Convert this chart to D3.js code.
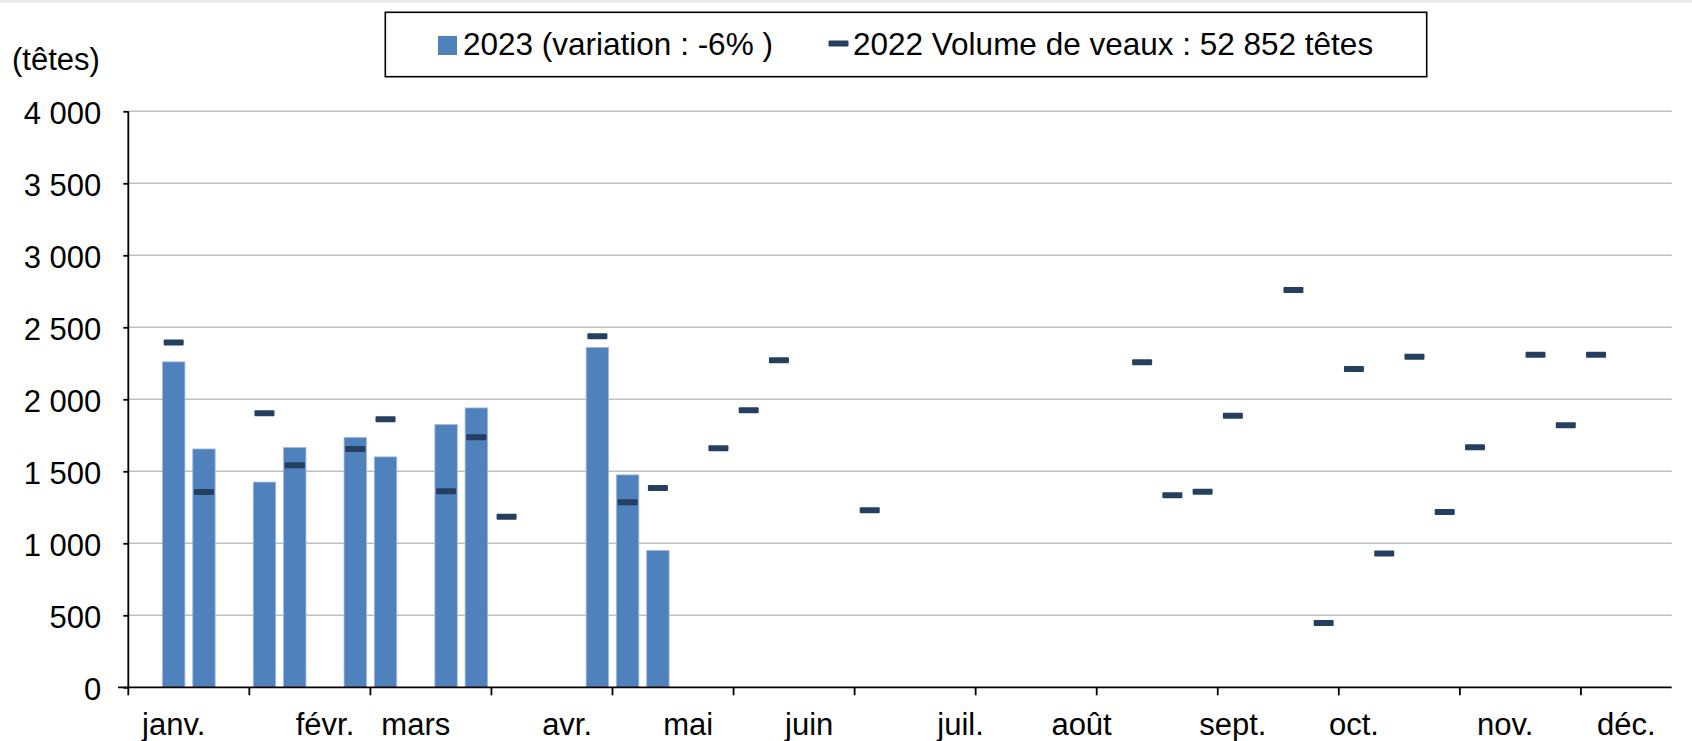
<!DOCTYPE html>
<html><head><meta charset="utf-8">
<script src="https://cdn.jsdelivr.net/npm/d3@7"></script>
<style>
html,body{margin:0;padding:0;background:#fff;}
svg{display:block;font-family:"Liberation Sans",Arial,sans-serif;}
</style></head>
<body>
<svg id="chart" width="1692" height="741"></svg>
<script>
// Weekly categories (51 slots)
const weeks = [1,2,3,4,5,6,7,8,9,10,11,12,13,14,15,16,17,18,19,20,21,22,23,24,25,26,27,28,29,30,31,32,33,34,35,36,37,38,39,40,41,42,43,44,45,46,47,48,49,50,51];
// Month labels shown under specific weeks
const monthLabels = ["","janv.","","","","","févr.","","","mars","","","","","avr.","","","","mai","","","","juin","","","","","juil.","","","","août","","","","","sept.","","","","oct.","","","","","nov.","","","","déc.",""];
// 2023 weekly volumes (bars)
const values2023 = [null,2260,1655,null,1425,1665,null,1735,1600,null,1825,1940,null,null,null,2360,1475,950,null,null,null,null,null,null,null,null,null,null,null,null,null,null,null,null,null,null,null,null,null,null,null,null,null,null,null,null,null,null,null,null,null];
// 2022 weekly volumes (dash markers)
const values2022 = [null,2395,1356,null,1903,1542,null,1655,1861,null,1361,1736,1185,null,null,2437,1285,1384,null,1660,1924,2271,null,null,1229,null,null,null,null,null,null,null,null,2257,1333,1358,1886,null,2759,446,2210,930,2296,1217,1667,null,2310,1819,2310,null,null];
const yTicks = [0,500,1000,1500,2000,2500,3000,3500,4000];
const legendLabels = ["2023 (variation : -6% )","2022 Volume de veaux : 52 852 têtes"];
const unitLabel = "(têtes)";

const barColor = "#4f81bd", dashColor = "#243f60";
const svg = d3.select("#chart");
const L = 128.3, R = 1671.7, T = 111.3, B = 687.3;

const x = d3.scaleBand().domain(weeks).range([L, R]).paddingInner(0.26).paddingOuter(0.13);
const y = d3.scaleLinear().domain([0, 4000]).range([B, T]);
const fr = d3.formatLocale({decimal: ",", thousands: " ", grouping: [3], currency: ["", "€"]}).format(",");

// top shade
svg.append("rect").attr("x",0).attr("y",0).attr("width",1692).attr("height",3).attr("fill","#ececec");

// gridlines
svg.append("g").selectAll("line").data(yTicks.filter(d => d > 0)).join("line")
  .attr("x1", L).attr("x2", R).attr("y1", d => y(d)).attr("y2", d => y(d))
  .attr("stroke", "#c0c0c0").attr("stroke-width", 1.6);

// y axis
const yAxis = svg.append("g").attr("transform", `translate(${L},0)`)
  .call(d3.axisLeft(y).tickValues(yTicks).tickFormat(fr).tickSize(5).tickPadding(22));
yAxis.select(".domain").attr("stroke", "#000").attr("stroke-width", 1.8).attr("d", `M0,${T}V${B}`);
yAxis.selectAll(".tick line").attr("stroke", "#000").attr("stroke-width", 1.8);
yAxis.selectAll(".tick text").attr("font-size", 31).attr("fill", "#000").attr("font-family", "Liberation Sans, Arial, sans-serif").attr("dy", "0.40em");

// bars
const bw = x.bandwidth();
svg.append("g").selectAll("rect").data(weeks.map((w, i) => ({w, v: values2023[i]})).filter(d => d.v != null)).join("rect")
  .attr("x", d => x(d.w)).attr("width", bw)
  .attr("y", d => y(d.v)).attr("height", d => B - y(d.v))
  .attr("fill", barColor).attr("stroke", "#9fbadc").attr("stroke-width", 0.8);

// x axis line
svg.append("line").attr("x1", 118).attr("x2", R).attr("y1", B).attr("y2", B).attr("stroke", "#000").attr("stroke-width", 1.8);
// x tick marks every 4 weeks at slot boundaries
const step = x.step();
const tickWeeks = weeks.filter((w, i) => i % 4 === 0);
svg.append("g").selectAll("line").data(tickWeeks).join("line")
  .attr("x1", d => x(d) + bw / 2 - step / 2).attr("x2", d => x(d) + bw / 2 - step / 2)
  .attr("y1", B).attr("y2", B + 8).attr("stroke", "#000").attr("stroke-width", 1.8);
// month labels
svg.append("g").selectAll("text").data(weeks.map((w, i) => ({w, t: monthLabels[i]})).filter(d => d.t)).join("text")
  .attr("x", d => x(d.w) + bw / 2).attr("y", 735).attr("text-anchor", "middle")
  .attr("font-size", 31).attr("fill", "#000").text(d => d.t);

// 2022 dash markers
svg.append("g").selectAll("rect").data(weeks.map((w, i) => ({w, v: values2022[i]})).filter(d => d.v != null)).join("rect")
  .attr("x", d => x(d.w) + bw / 2 - 10).attr("width", 20)
  .attr("y", d => y(d.v) - 3).attr("height", 6).attr("rx", 1)
  .attr("fill", dashColor);

// unit label
svg.append("text").attr("x", 12).attr("y", 70).attr("font-size", 31).attr("fill", "#000").text(unitLabel);

// legend
const lg = svg.append("g");
lg.append("rect").attr("x", 385.3).attr("y", 12.3).attr("width", 1041.4).attr("height", 64.4)
  .attr("fill", "#fff").attr("stroke", "#000").attr("stroke-width", 1.6);
lg.append("rect").attr("x", 438).attr("y", 36).attr("width", 19).attr("height", 19).attr("fill", barColor);
lg.append("text").attr("x", 463).attr("y", 55).attr("font-size", 31.5).attr("fill", "#000").text(legendLabels[0]);
lg.append("rect").attr("x", 828.5).attr("y", 40.5).attr("width", 20).attr("height", 6).attr("rx", 1).attr("fill", dashColor);
lg.append("text").attr("x", 853).attr("y", 55).attr("font-size", 31.5).attr("fill", "#000").text(legendLabels[1]);
</script>
</body></html>
